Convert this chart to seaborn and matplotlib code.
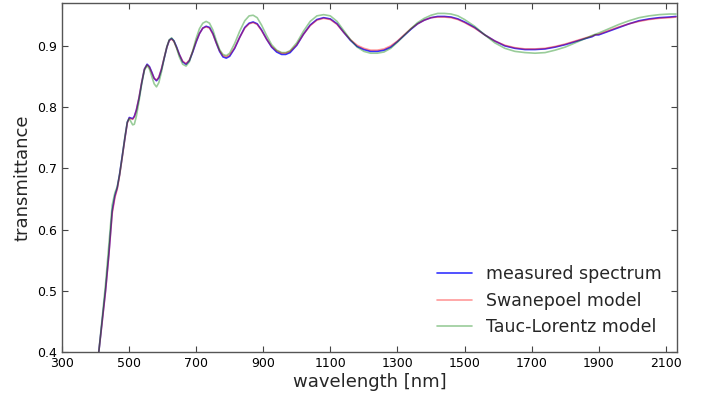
import numpy as np
import pandas as pd
import seaborn as sns
import matplotlib.pyplot as plt

# wavelength grid [nm] shared by all three curves
wavelength = [
    410, 420, 430, 440, 450, 458, 465, 472, 480, 488, 495, 501, 506, 511, 516,
    522, 530, 538, 546, 554, 561, 568, 575, 582, 589, 597, 605, 613, 620, 627,
    634, 642, 650, 660, 670, 680, 690, 700, 710, 720, 730, 740, 750, 760, 770,
    780, 790, 800, 815, 830, 845, 858, 870, 882, 895, 910, 925, 940, 955, 967,
    980, 1000, 1020, 1040, 1060, 1080, 1100, 1120, 1140, 1160, 1180, 1200, 1220,
    1240, 1260, 1280, 1300, 1320, 1340, 1360, 1380, 1400, 1420, 1440, 1460, 1480,
    1500, 1530, 1560, 1590, 1620, 1650, 1680, 1710, 1740, 1770, 1800, 1830, 1860,
    1880, 1890, 1900, 1930, 1960, 1990, 2020, 2050, 2080, 2110, 2130,
]

measured = [
    0.400, 0.450, 0.500, 0.560, 0.630, 0.655, 0.668, 0.690, 0.720, 0.750, 0.775, 0.783, 0.782, 0.781, 0.785,
    0.795, 0.815, 0.840, 0.862, 0.870, 0.866, 0.857, 0.847, 0.843, 0.848, 0.862, 0.880, 0.898, 0.909, 0.912,
    0.908, 0.898, 0.886, 0.874, 0.870, 0.876, 0.890, 0.906, 0.920, 0.929, 0.932, 0.930, 0.920, 0.905, 0.891,
    0.882, 0.880, 0.883, 0.896, 0.914, 0.930, 0.937, 0.939, 0.936, 0.926, 0.911, 0.898, 0.890, 0.886, 0.886,
    0.889, 0.901, 0.919, 0.934, 0.943, 0.946, 0.944, 0.936, 0.922, 0.909, 0.899, 0.894, 0.891,
    0.891, 0.893, 0.898, 0.907, 0.917, 0.927, 0.936, 0.942, 0.946, 0.948, 0.948, 0.947, 0.944,
    0.939, 0.930, 0.918, 0.908, 0.900, 0.896, 0.894, 0.894, 0.895, 0.898, 0.902, 0.907, 0.912,
    0.915, 0.918, 0.918, 0.924, 0.930, 0.936, 0.941, 0.944, 0.946, 0.947, 0.948,
]

swanepoel = [
    0.400, 0.448, 0.498, 0.558, 0.626, 0.652, 0.666, 0.688, 0.718, 0.749, 0.774, 0.782, 0.781, 0.780, 0.784,
    0.795, 0.816, 0.841, 0.862, 0.869, 0.865, 0.856, 0.847, 0.844, 0.849, 0.863, 0.881, 0.898, 0.909, 0.911,
    0.907, 0.897, 0.886, 0.875, 0.871, 0.877, 0.891, 0.907, 0.920, 0.929, 0.931, 0.929, 0.919, 0.905, 0.892,
    0.884, 0.882, 0.885, 0.897, 0.914, 0.929, 0.936, 0.938, 0.935, 0.925, 0.911, 0.899, 0.892, 0.888, 0.888,
    0.891, 0.902, 0.919, 0.933, 0.942, 0.945, 0.943, 0.935, 0.922, 0.910, 0.901, 0.896, 0.893,
    0.893, 0.895, 0.900, 0.908, 0.918, 0.928, 0.936, 0.942, 0.946, 0.947, 0.947, 0.946, 0.943,
    0.938, 0.929, 0.918, 0.908, 0.901, 0.897, 0.895, 0.895, 0.896, 0.899, 0.903, 0.908, 0.913,
    0.916, 0.918, 0.919, 0.925, 0.931, 0.936, 0.940, 0.943, 0.945, 0.946, 0.947,
]

tauc_lorentz = [
    0.400, 0.455, 0.510, 0.575, 0.640, 0.660, 0.670, 0.690, 0.720, 0.752, 0.776, 0.781, 0.776, 0.771, 0.772,
    0.785, 0.810, 0.838, 0.860, 0.868, 0.862, 0.850, 0.838, 0.833, 0.840, 0.858, 0.880, 0.899, 0.910, 0.913,
    0.908, 0.896, 0.882, 0.870, 0.867, 0.874, 0.892, 0.912, 0.928, 0.937, 0.940, 0.937, 0.926, 0.909, 0.894,
    0.886, 0.884, 0.888, 0.904, 0.924, 0.941, 0.949, 0.950, 0.946, 0.934, 0.917, 0.902, 0.893, 0.889, 0.889,
    0.892, 0.905, 0.924, 0.940, 0.949, 0.951, 0.949, 0.940, 0.925, 0.910, 0.898, 0.891, 0.888,
    0.888, 0.890, 0.896, 0.906, 0.917, 0.928, 0.938, 0.945, 0.950, 0.953, 0.953, 0.952, 0.949,
    0.943, 0.932, 0.918, 0.905, 0.896, 0.891, 0.889, 0.888, 0.889, 0.893, 0.898, 0.905, 0.912,
    0.917, 0.919, 0.921, 0.928, 0.935, 0.941, 0.946, 0.949, 0.951, 0.952, 0.952,
]

x_ticks = [300, 500, 700, 900, 1100, 1300, 1500, 1700, 1900, 2100]
y_ticks = [0.4, 0.5, 0.6, 0.7, 0.8, 0.9]

sns.set_style('white')

fig = plt.figure(figsize=(7.03, 4.0), dpi=100)
ax = fig.add_axes([0.088, 0.12, 0.875, 0.8725])

sns.lineplot(x=wavelength, y=measured, color='blue', alpha=0.8, lw=1.2,
             label='measured spectrum', ax=ax, sort=False)
sns.lineplot(x=wavelength, y=swanepoel, color='red', alpha=0.4, lw=1.2,
             label='Swanepoel model', ax=ax, sort=False)
sns.lineplot(x=wavelength, y=tauc_lorentz, color='green', alpha=0.4, lw=1.2,
             label='Tauc-Lorentz model', ax=ax, sort=False)

ax.set_xlim(300, 2133)
ax.set_ylim(0.4, 0.97)
ax.set_xticks(x_ticks)
ax.set_yticks(y_ticks)
ax.tick_params(direction='in', bottom=True, left=True, top=True, right=True,
               length=4, width=0.8, labelsize=9, color='#444444',
               labelcolor='black')
for s in ax.spines.values():
    s.set_color('#555555')
    s.set_linewidth(1.0)

ax.set_xlabel('wavelength [nm]', fontsize=13, labelpad=2)
ax.set_ylabel('transmittance', fontsize=13, labelpad=4)
ax.legend(loc='lower right', frameon=False, fontsize=12.5)

plt.savefig('out.png', dpi=100)
